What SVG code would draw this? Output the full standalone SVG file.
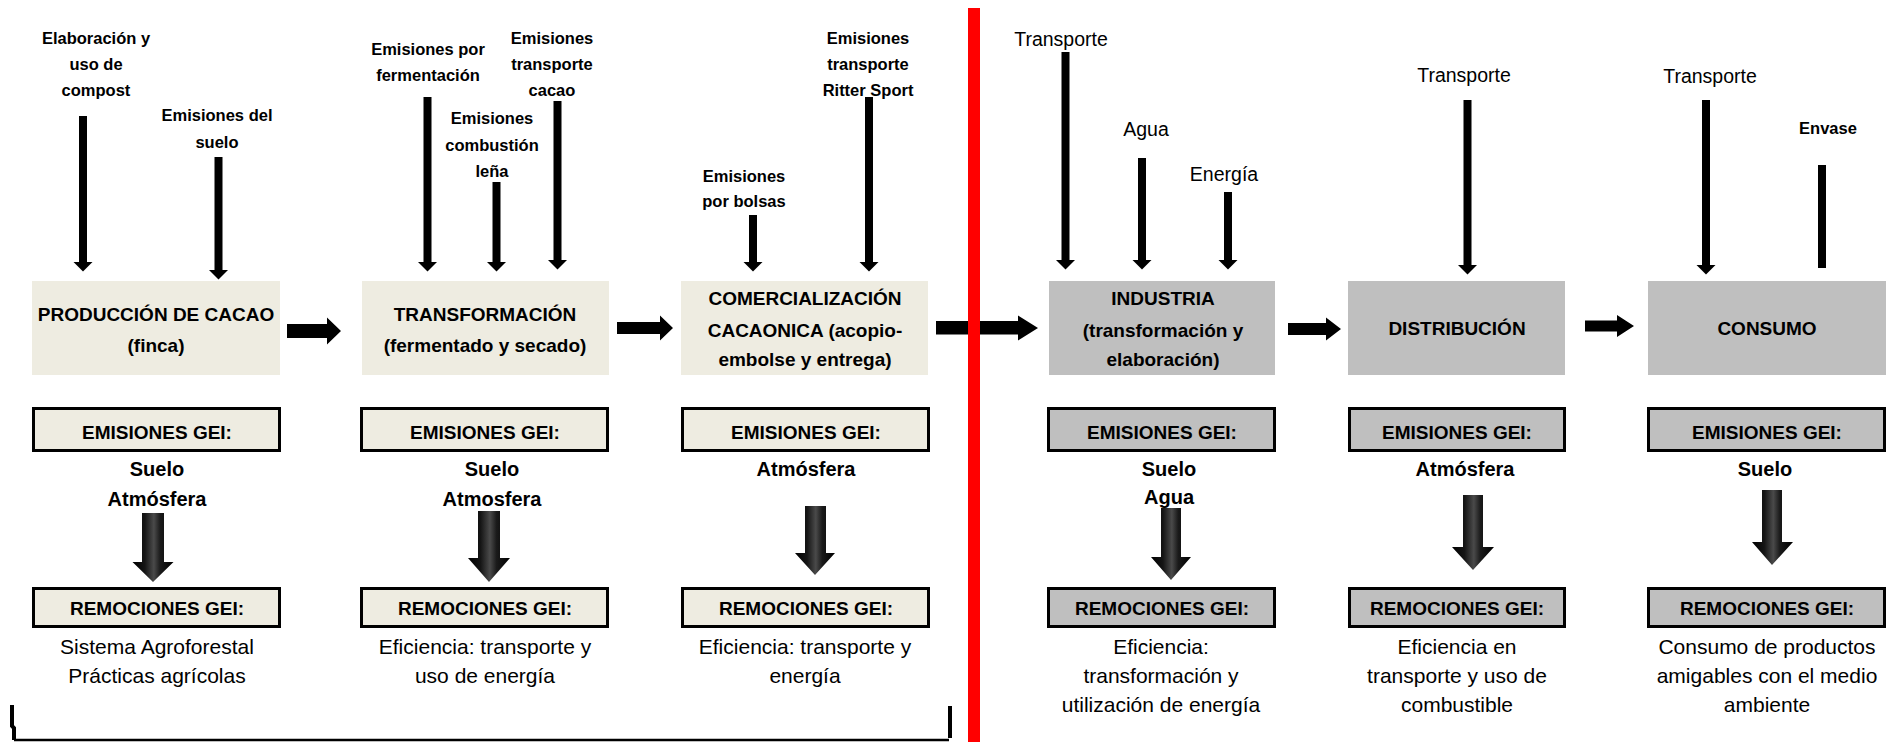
<svg xmlns="http://www.w3.org/2000/svg" width="1892" height="742" viewBox="0 0 1892 742">
<style>
text{font-family:"Liberation Sans",Arial,sans-serif;text-anchor:middle;fill:#000}
.lb{font-size:16.5px;font-weight:bold}
.lr{font-size:19.5px}
.env{font-size:16.5px;font-weight:bold}
.t{font-size:19px;font-weight:bold}
.hdr{font-size:19px;font-weight:bold}
.src{font-size:20px;font-weight:bold}
.body{font-size:21px}
.beige{fill:#EEECE1}
.gray{fill:#BFBFBF}
.hb{stroke:#000;stroke-width:3}
.thin{stroke:#000;stroke-width:8;fill:none}
.blk{fill:#000}
.big{fill:url(#g3d)}
</style>
<defs>
<marker id="ah" markerUnits="userSpaceOnUse" markerWidth="12" markerHeight="22" viewBox="0 -11 12 22" refX="0.5" refY="0" orient="auto">
<path d="M0,-10 L10,0 L0,10 Z" fill="#000"/>
</marker>
<linearGradient id="g3d" x1="0" y1="0" x2="1" y2="0">
<stop offset="0" stop-color="#000"/>
<stop offset="0.3" stop-color="#151515"/>
<stop offset="0.52" stop-color="#4a4a4a"/>
<stop offset="0.68" stop-color="#1a1a1a"/>
<stop offset="1" stop-color="#000"/>
</linearGradient>
</defs>
<rect width="1892" height="742" fill="#fff"/>

<g id="labels-top">
<text class="lb" x="96" y="44">Elaboración y</text>
<text class="lb" x="96" y="70">uso de</text>
<text class="lb" x="96" y="96">compost</text>
<text class="lb" x="217" y="121">Emisiones del</text>
<text class="lb" x="217" y="148">suelo</text>
<text class="lb" x="428" y="55">Emisiones por</text>
<text class="lb" x="428" y="81">fermentación</text>
<text class="lb" x="492" y="124">Emisiones</text>
<text class="lb" x="492" y="151">combustión</text>
<text class="lb" x="492" y="177">leña</text>
<text class="lb" x="552" y="44">Emisiones</text>
<text class="lb" x="552" y="70">transporte</text>
<text class="lb" x="552" y="96">cacao</text>
<text class="lb" x="744" y="182">Emisiones</text>
<text class="lb" x="744" y="207">por bolsas</text>
<text class="lb" x="868" y="44">Emisiones</text>
<text class="lb" x="868" y="70">transporte</text>
<text class="lb" x="868" y="96">Ritter Sport</text>
<text class="lr" x="1061" y="46">Transporte</text>
<text class="lr" x="1146" y="136">Agua</text>
<text class="lr" x="1224" y="181">Energía</text>
<text class="lr" x="1464" y="82">Transporte</text>
<text class="lr" x="1710" y="83">Transporte</text>
<text class="env" x="1828" y="134">Envase</text>
</g>

<g id="produccion">
<rect class="beige" x="32" y="281" width="248" height="94"/>
<text class="t" x="156" y="321">PRODUCCIÓN DE CACAO</text>
<text class="t" x="156" y="352">(finca)</text>
<rect class="beige hb" x="33.5" y="408.5" width="246" height="42"/>
<text class="hdr" x="157" y="439">EMISIONES GEI:</text>
<text class="src" x="157" y="476">Suelo</text>
<text class="src" x="157" y="506">Atmósfera</text>
<rect class="beige hb" x="33.5" y="588.5" width="246" height="38"/>
<text class="hdr" x="157" y="615">REMOCIONES GEI:</text>
<text class="body" x="157" y="654">Sistema Agroforestal</text>
<text class="body" x="157" y="683">Prácticas agrícolas</text>
</g>

<g id="transformacion">
<rect class="beige" x="362" y="281" width="247" height="94"/>
<text class="t" x="485" y="321">TRANSFORMACIÓN</text>
<text class="t" x="485" y="352">(fermentado y secado)</text>
<rect class="beige hb" x="361.5" y="408.5" width="246" height="42"/>
<text class="hdr" x="485" y="439">EMISIONES GEI:</text>
<text class="src" x="492" y="476">Suelo</text>
<text class="src" x="492" y="506">Atmosfera</text>
<rect class="beige hb" x="361.5" y="588.5" width="246" height="38"/>
<text class="hdr" x="485" y="615">REMOCIONES GEI:</text>
<text class="body" x="485" y="654">Eficiencia: transporte y</text>
<text class="body" x="485" y="683">uso de energía</text>
</g>

<g id="comercializacion">
<rect class="beige" x="681" y="281" width="247" height="94"/>
<text class="t" x="805" y="305">COMERCIALIZACIÓN</text>
<text class="t" x="805" y="337">CACAONICA (acopio-</text>
<text class="t" x="805" y="366">embolse y entrega)</text>
<rect class="beige hb" x="682.5" y="408.5" width="246" height="42"/>
<text class="hdr" x="806" y="439">EMISIONES GEI:</text>
<text class="src" x="806" y="476">Atmósfera</text>
<rect class="beige hb" x="682.5" y="588.5" width="246" height="38"/>
<text class="hdr" x="806" y="615">REMOCIONES GEI:</text>
<text class="body" x="805" y="654">Eficiencia: transporte y</text>
<text class="body" x="805" y="683">energía</text>
</g>

<g id="industria">
<rect class="gray" x="1049" y="281" width="226" height="94"/>
<text class="t" x="1163" y="305">INDUSTRIA</text>
<text class="t" x="1163" y="337">(transformación y</text>
<text class="t" x="1163" y="366">elaboración)</text>
<rect class="gray hb" x="1048.5" y="408.5" width="226" height="42"/>
<text class="hdr" x="1162" y="439">EMISIONES GEI:</text>
<text class="src" x="1169" y="476">Suelo</text>
<text class="src" x="1169" y="504">Agua</text>
<rect class="gray hb" x="1048.5" y="588.5" width="226" height="38"/>
<text class="hdr" x="1162" y="615">REMOCIONES GEI:</text>
<text class="body" x="1161" y="654">Eficiencia:</text>
<text class="body" x="1161" y="683">transformación y</text>
<text class="body" x="1161" y="712">utilización de energía</text>
</g>

<g id="distribucion">
<rect class="gray" x="1348" y="281" width="217" height="94"/>
<text class="t" x="1457" y="335">DISTRIBUCIÓN</text>
<rect class="gray hb" x="1349.5" y="408.5" width="215" height="42"/>
<text class="hdr" x="1457" y="439">EMISIONES GEI:</text>
<text class="src" x="1465" y="476">Atmósfera</text>
<rect class="gray hb" x="1349.5" y="588.5" width="215" height="38"/>
<text class="hdr" x="1457" y="615">REMOCIONES GEI:</text>
<text class="body" x="1457" y="654">Eficiencia en</text>
<text class="body" x="1457" y="683">transporte y uso de</text>
<text class="body" x="1457" y="712">combustible</text>
</g>

<g id="consumo">
<rect class="gray" x="1648" y="281" width="238" height="94"/>
<text class="t" x="1767" y="335">CONSUMO</text>
<rect class="gray hb" x="1648.5" y="408.5" width="236" height="42"/>
<text class="hdr" x="1767" y="439">EMISIONES GEI:</text>
<text class="src" x="1765" y="476">Suelo</text>
<rect class="gray hb" x="1648.5" y="588.5" width="236" height="38"/>
<text class="hdr" x="1767" y="615">REMOCIONES GEI:</text>
<text class="body" x="1767" y="654">Consumo de productos</text>
<text class="body" x="1767" y="683">amigables con el medio</text>
<text class="body" x="1767" y="712">ambiente</text>
</g>

<g id="connectors">
<line class="thin" x1="83" y1="116" x2="83" y2="262" marker-end="url(#ah)"/>
<line class="thin" x1="218.5" y1="157" x2="218.5" y2="270" marker-end="url(#ah)"/>
<line class="thin" x1="427.5" y1="97" x2="427.5" y2="262" marker-end="url(#ah)"/>
<line class="thin" x1="496.5" y1="182" x2="496.5" y2="262" marker-end="url(#ah)"/>
<line class="thin" x1="557.5" y1="101" x2="557.5" y2="260" marker-end="url(#ah)"/>
<line class="thin" x1="753" y1="215" x2="753" y2="262" marker-end="url(#ah)"/>
<line class="thin" x1="869" y1="97" x2="869" y2="262" marker-end="url(#ah)"/>
<line class="thin" x1="1065.5" y1="52" x2="1065.5" y2="260" marker-end="url(#ah)"/>
<line class="thin" x1="1142" y1="158" x2="1142" y2="260" marker-end="url(#ah)"/>
<line class="thin" x1="1228" y1="192" x2="1228" y2="260" marker-end="url(#ah)"/>
<line class="thin" x1="1467.5" y1="100" x2="1467.5" y2="265" marker-end="url(#ah)"/>
<line class="thin" x1="1706" y1="100" x2="1706" y2="265" marker-end="url(#ah)"/>
<line class="thin" x1="1822" y1="165" x2="1822" y2="268"/>

<polygon class="blk" points="287,324 327,324 327,317.5 341,331 327,344.5 327,338 287,338"/>
<polygon class="blk" points="617,322 660,322 660,315.5 673,328 660,340.5 660,334 617,334"/>
<polygon class="blk" points="936,321 1018,321 1018,315.5 1038,328 1018,340.5 1018,334.5 936,334.5"/>
<polygon class="blk" points="1288,323 1326,323 1326,317.5 1341,329 1326,340.5 1326,335 1288,335"/>
<polygon class="blk" points="1585,320.5 1617,320.5 1617,315 1634,326 1617,337 1617,331.5 1585,331.5"/>

<polygon class="big" points="142,513 164,513 164,562 173.5,562 153,582 132.5,562 142,562"/>
<polygon class="big" points="478,511 500,511 500,558 510,558 489,582 468,558 478,558"/>
<polygon class="big" points="805,506 826,506 826,553 835,553 815,575 795,553 805,553"/>
<polygon class="big" points="1161,508 1181,508 1181,557 1191,557 1171,580 1151,557 1161,557"/>
<polygon class="big" points="1463,495 1483,495 1483,547 1494,547 1473,570 1452,547 1463,547"/>
<polygon class="big" points="1762,490 1782,490 1782,542 1793,542 1772,565 1752,542 1762,542"/>
</g>

<g id="divider">
<rect x="968" y="8" width="12" height="734" fill="#FF0000"/>
</g>

<g id="bracket" fill="none" stroke="#000">
<path d="M12,705 L12,726 L14,728 L14,740" stroke-width="4"/>
<path d="M14,740 L949,740" stroke-width="2.5"/>
<path d="M950,706 L950,738" stroke-width="4"/>
</g>
</svg>
